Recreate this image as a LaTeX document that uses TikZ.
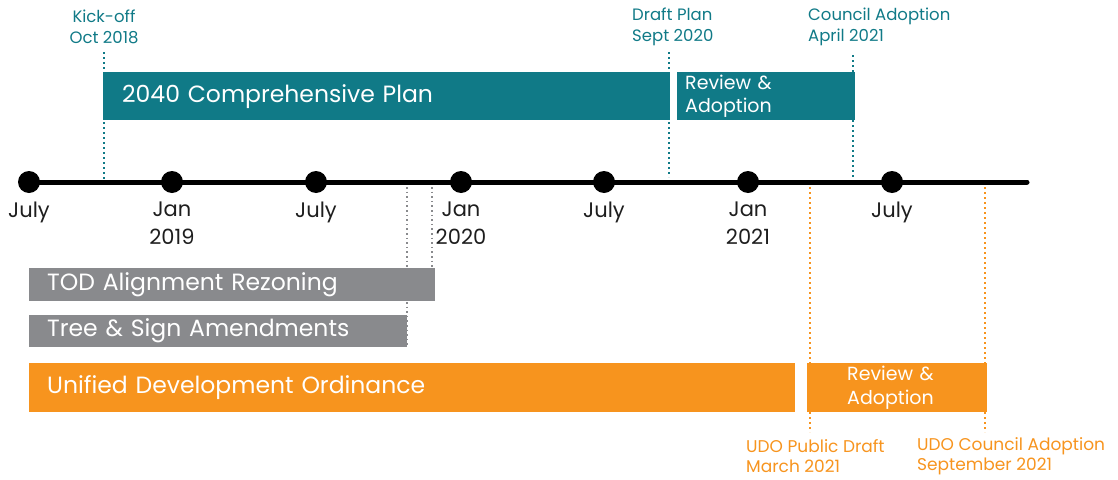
\documentclass[tikz,border=0pt]{standalone}
\usepackage{fontspec}
\setmainfont{Poppins}
\definecolor{tealc}{RGB}{16,122,135}
\definecolor{orangec}{RGB}{247,148,30}
\definecolor{grayc}{RGB}{137,138,141}
\definecolor{axtext}{RGB}{30,30,30}
\begin{document}
\begin{tikzpicture}[x=1pt,y=-1pt,
  barbox/.style={anchor=north west, inner ysep=0pt, text=white, align=left, font=\fontsize{23.5}{24}\selectfont},
  dotn/.style={circle, fill=black, inner sep=0pt, minimum size=22pt},
  axl/.style={anchor=north, align=center, text=axtext, font=\fontsize{21}{28}\selectfont},
  mst/.style={align=left, inner sep=0pt, font=\fontsize{16.5}{21.5}\selectfont},
  tealdot/.style={draw=tealc, line width=2pt, dash pattern=on 2pt off 3pt},
  graydot/.style={draw=grayc, line width=1.6pt, dash pattern=on 1.6pt off 3pt},
  orangedot/.style={draw=orangec, line width=2pt, dash pattern=on 2pt off 3pt}
]
\useasboundingbox (0,0) rectangle (1118,479);

% axis
\coordinate (axend) at (1027,182);
\draw[line width=5pt, line cap=round] (29,182) -- (axend);
\node[dotn] (d1) at (29,182) {};
\node[dotn] (d2) at (172,182) {};
\node[dotn] (d3) at (316,182) {};
\node[dotn] (d4) at (461,182) {};
\node[dotn] (d5) at (604,182) {};
\node[dotn] (d6) at (748,182) {};
\node[dotn] (d7) at (892,182) {};

\node[axl] (l1) at (29,198) {July};
\node[axl] (l2) at (172,198) {Jan\\2019};
\node[axl] (l3) at (316,198) {July};
\node[axl] (l4) at (461,198) {Jan\\2020};
\node[axl] (l5) at (604,198) {July};
\node[axl] (l6) at (748,198) {Jan\\2021};
\node[axl] (l7) at (892,198) {July};

% teal bars
\node[barbox, fill=tealc, minimum width=567pt, minimum height=48pt, inner xsep=19pt, text width=529pt] (cp) at (103,72) {2040 Comprehensive Plan};
\node[barbox, fill=tealc, minimum width=178pt, minimum height=48pt, inner xsep=8pt, text width=162pt, font=\fontsize{19}{23}\selectfont] (cpr) at (677,72) {Review \&\\Adoption};

% gray bars
\node[barbox, fill=grayc, minimum width=406pt, minimum height=33pt, inner xsep=18pt, text width=370pt] (tod) at (29,268) {TOD Alignment Rezoning};
\node[barbox, fill=grayc, minimum width=378pt, minimum height=32pt, inner xsep=18pt, text width=342pt] (tree) at (29,315) {Tree \& Sign Amendments};

% orange bars
\node[barbox, fill=orangec, minimum width=766pt, minimum height=49pt, inner xsep=18pt, text width=730pt] (udo) at (29,363) {Unified Development Ordinance};
\node[barbox, fill=orangec, minimum width=180pt, minimum height=49pt, inner xsep=40pt, text width=100pt, align=left, font=\fontsize{19}{24}\selectfont] (udor) at (807,363) {Review \&\\Adoption};

% teal milestones
\node[mst, text=tealc, align=center] (kick) at (104,27) {Kick-off\\Oct 2018};
\node[mst, text=tealc, anchor=west] (draft) at (632,27) {Draft Plan\\Sept 2020};
\node[mst, text=tealc, anchor=west] (council) at (808,27) {Council Adoption\\April 2021};
\coordinate (k1) at (104,52); \coordinate (k2) at (104,180);
\coordinate (dp1) at (669,52); \coordinate (dp2) at (669,177);
\coordinate (ca1) at (853,55); \coordinate (ca2) at (853,177);
\draw[tealdot] (k1) -- (k2);
\draw[tealdot] (dp1) -- (dp2);
\draw[tealdot] (ca1) -- (ca2);

% gray dotted
\coordinate (g1) at (407,187); \coordinate (g2) at (407,347);
\coordinate (g3) at (432,187); \coordinate (g4) at (432,268);
\draw[graydot] (g1) -- (g2);
\draw[graydot] (g3) -- (g4);

% orange milestones
\node[mst, text=orangec, anchor=west, font=\fontsize{17}{20}\selectfont] (pubd) at (746,456) {UDO Public Draft\\March 2021};
\node[mst, text=orangec, anchor=west, font=\fontsize{17}{20}\selectfont] (udoc) at (917,456) {UDO Council Adoption\\September 2021};
\coordinate (o1) at (810,187); \coordinate (o2) at (810,432);
\coordinate (o3) at (985,187); \coordinate (o4) at (985,432);
\draw[orangedot] (o1) -- (o2);
\draw[orangedot] (o3) -- (o4);
\end{tikzpicture}
\end{document}
